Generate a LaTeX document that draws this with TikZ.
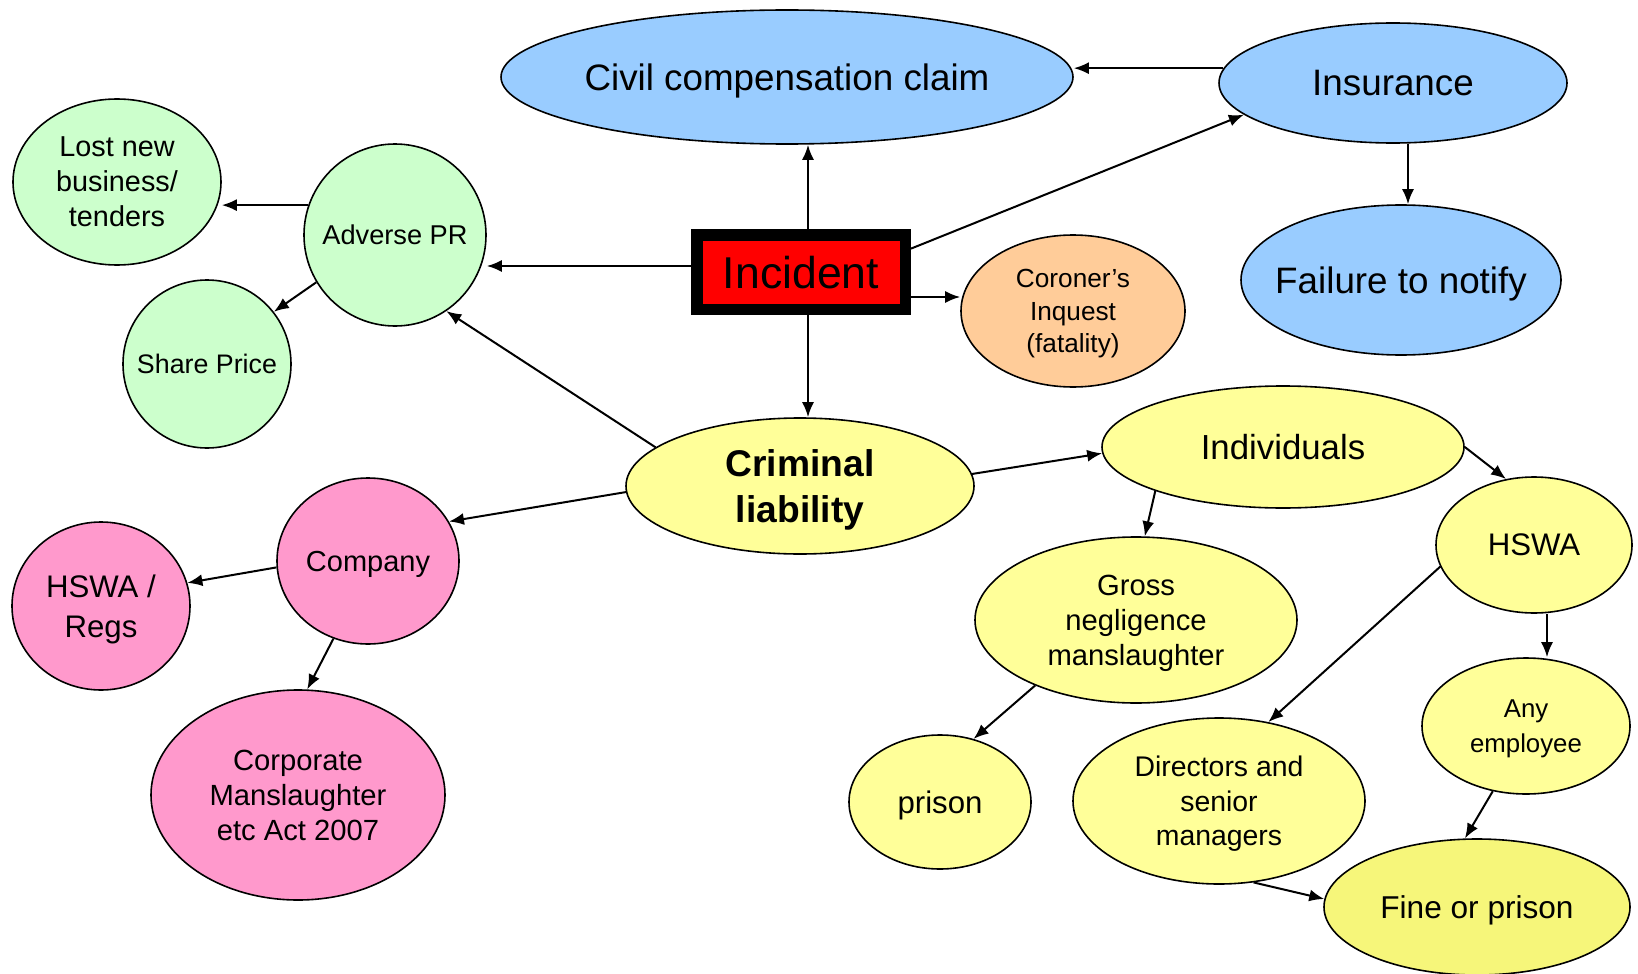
\documentclass[tikz,border=0pt]{standalone}
\usepackage{fontspec}
\setmainfont{Liberation Sans}
\usepackage{xcolor}
\usepackage{tikz}
\usetikzlibrary{shapes.geometric}
\usetikzlibrary{arrows.meta}
\usetikzlibrary{calc}
\definecolor{bluec}{HTML}{99CCFF}
\definecolor{greenc}{HTML}{CCFFCC}
\definecolor{yellc}{HTML}{FFFF99}
\definecolor{finec}{HTML}{F6F67A}
\definecolor{orangec}{HTML}{FFCC99}
\definecolor{pinkc}{HTML}{FF99CC}
\colorlet{incred}{red}
\tikzset{
  bub/.style 2 args={ellipse,draw,line width=0.8pt,inner sep=0pt,text depth=0pt,
    minimum width=#1pt,minimum height=#2pt,align=center},
  rnd/.style={circle,draw,line width=0.8pt,inner sep=0pt,text depth=0pt,
    minimum size=#1pt,align=center},
  arr/.style={-{Latex[length=7.5pt,width=6pt]},line width=1pt},
}
\newcommand{\fsz}[2]{\fontsize{#1}{#2}\selectfont}

\begin{document}
\begin{tikzpicture}[x=0.5pt,y=-0.5pt]
            \useasboundingbox (0,0) rectangle (1638,974);
            % top row
            \node[bub={286}{67},fill=bluec,inner xsep=-4pt,font=\fsz{18.4}{22}] (civil) at (787,77) {Civil compensation claim};
            \node[bub={174}{60},fill=bluec,font=\fsz{18.4}{22}] (ins) at (1393,83) {Insurance};
            \node[bub={160}{75},fill=bluec,inner xsep=-12pt,font=\fsz{18.4}{22}] (fail) at (1401,280) {Failure to notify};
            \node[draw,line width=5.75pt,fill=incred,minimum width=104.25pt,minimum height=37.25pt,
              inner sep=0pt,text depth=0pt,font=\fsz{22.3}{26}] (inc) at (801,272) {Incident};
            \node[bub={112}{76},fill=orangec,font=\fsz{13.1}{16.2}] (coro) at (1073,311) {Coroner’s\\Inquest\\(fatality)};
            % adverse PR branch
            \node[rnd=91,fill=greenc,font=\fsz{13.6}{17}] (adv) at (395,235) {Adverse PR};
            \node[bub={104}{83},fill=greenc,font=\fsz{14.4}{17.5}] (lost) at (117,182) {Lost new\\business/\\tenders};
            \node[rnd=84,fill=greenc,font=\fsz{13.4}{17}] (share) at (207,364) {Share Price};
            % criminal liability
            \node[bub={174}{68},fill=yellc,font=\bfseries\fsz{18.6}{23}] (crim) at (800,486) {Criminal\\liability};
            \node[bub={91}{83},fill=pinkc,font=\fsz{14.5}{18}] (comp) at (368,561) {Company};
            \node[bub={89}{84},fill=pinkc,font=\fsz{15.6}{20}] (hregs) at (101,606) {HSWA /\\Regs};
            \node[bub={147}{105},fill=pinkc,font=\fsz{14.6}{17.5}] (corp) at (298,795) {Corporate\\Manslaughter\\etc Act 2007};
            \node[bub={181}{61},fill=yellc,font=\fsz{17.4}{21}] (indiv) at (1283,447) {Individuals};
            \node[bub={98}{68},fill=yellc,font=\fsz{15.6}{19}] (hswa) at (1534,545) {HSWA};
            \node[bub={161}{83},fill=yellc,font=\fsz{14.6}{17.5}] (gross) at (1136,620) {Gross\\negligence\\manslaughter};
            \node[bub={91}{67},fill=yellc,font=\fsz{15.6}{19}] (prison) at (940,802) {prison};
            \node[bub={146}{83},fill=yellc,font=\fsz{14.2}{17.2}] (dir) at (1219,801) {Directors and\\senior\\managers};
            \node[bub={104}{68},fill=yellc,font=\fsz{12.9}{17.2}] (anyemp) at (1526,726) {Any\\employee};
            \node[bub={153}{68},fill=finec,font=\fsz{15.8}{19}] (fine) at (1477,907) {Fine or prison};

            % from the incident
            \coordinate (i1) at ($(inc.north)+(7,0)$);
            \draw[arr] (i1) -- (i1 |- civil.south);
            \draw[arr] (ins.175) -- (ins.175 -| civil.east);
            \draw[arr] (inc.12.3) -- (ins.192);
            \coordinate (i2) at ($(ins.south)+(15,0)$);
            \draw[arr] (i2) -- (i2 |- fail.north);
            \coordinate (i3) at ($(inc.west)+(0,-6)$);
            \draw[arr] (i3) -- (i3 -| adv.east);
            \coordinate (i4) at ($(inc.east)+(0,25)$);
            \draw[arr] (i4) -- (i4 -| coro.west);
            \coordinate (i5) at ($(inc.south)+(7,0)$);
            \draw[arr] (i5) -- (i5 |- crim.north);
            % left side
            \draw[arr] (crim.165.4) -- (adv.304.4);
            \draw[arr] (adv.161.6) -- (adv.161.6 -| lost.east);
            \draw[arr] (adv.211.1) -- (share.38.3);
            \draw[arr] (crim.182.6) -- (comp.26.6);
            \draw[arr] (comp.184.4) -- (hregs.15.2);
            \draw[arr] (comp.246.8) -- (corp.85.8);
            % right side
            \draw[arr] (crim.4.9) -- (indiv.182.3);
            \draw[arr] (indiv.199.7) -- (gross.84.5);
            \draw[arr] (indiv.east) -- (hswa.113.1);
            \draw[arr] (gross.213.7) -- (prison.62.4);
            \draw[arr] (hswa.193.2) -- (dir.58.6);
            \coordinate (h1) at ($(hswa.south)+(13,0)$);
            \draw[arr] (h1) -- (h1 |- anyemp.north);
            \draw[arr] (anyemp.243.8) -- (fine.100);
            \draw[arr] (dir.293.8) -- (fine.177.4);

        \end{tikzpicture}
\end{document}
